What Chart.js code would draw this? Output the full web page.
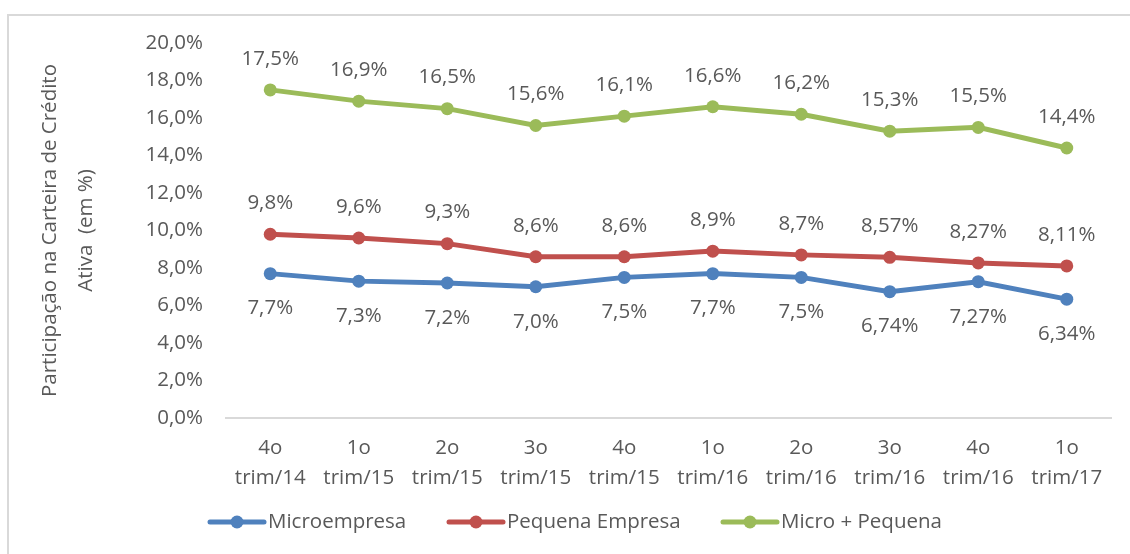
<!DOCTYPE html>
<html>
<head>
<meta charset="utf-8">
<script src="https://cdn.jsdelivr.net/npm/chart.js@4/dist/chart.umd.min.js"></script>
<style>
  html, body { margin: 0; padding: 0; background: #fff; }
  #wrap { position: relative; width: 1130px; height: 554px; overflow: hidden; }
  #frame { position: absolute; left: 7px; top: 14px; width: 1200px; height: 600px;
           border-left: 2px solid #d9d9d9; border-top: 2px solid #d9d9d9; }
  #chart { position: absolute; left: 0; top: 0; }
</style>
</head>
<body>
<div id="wrap">
  <div id="frame"></div>
  <canvas id="chart" width="1130" height="554"></canvas>
</div>
<script>
// trimestres
const labels = [
    ['4o', 'trim/14'], ['1o', 'trim/15'], ['2o', 'trim/15'], ['3o', 'trim/15'], ['4o', 'trim/15'],
    ['1o', 'trim/16'], ['2o', 'trim/16'], ['3o', 'trim/16'], ['4o', 'trim/16'], ['1o', 'trim/17']
];
const microempresa = [7.7, 7.3, 7.2, 7.0, 7.5, 7.7, 7.5, 6.74, 7.27, 6.34];
const pequenaEmpresa = [9.8, 9.6, 9.3, 8.6, 8.6, 8.9, 8.7, 8.57, 8.27, 8.11];
const microPequena = [17.5, 16.9, 16.5, 15.6, 16.1, 16.6, 16.2, 15.3, 15.5, 14.4];

const textColor = '#595959';
const fontFamily = '"Open Sans", "Noto Sans", sans-serif';
const fontSize = 20.5;

function fmt(v) {
    return v.toLocaleString('pt-BR', { minimumFractionDigits: 1, maximumFractionDigits: 2 }) + '%';
}

// rótulos de dados + legenda estilo Excel
const labelPlugin = {
    id: 'excelLabels',
    afterDatasetsDraw(chart) {
        const ctx = chart.ctx;
        ctx.save();
        ctx.font = fontSize + 'px ' + fontFamily;
        ctx.fillStyle = textColor;
        ctx.textAlign = 'center';
        ctx.textBaseline = 'middle';
        chart.data.datasets.forEach((ds, i) => {
            const meta = chart.getDatasetMeta(i);
            meta.data.forEach((pt, j) => {
                const dy = ds.labelPos === 'below' ? 35 : -31;
                ctx.fillText(fmt(ds.data[j]), pt.x, pt.y + dy);
            });
        });

        // legenda
        const legendY = 522;
        const starts = [210, 449, 723];
        chart.data.datasets.forEach((ds, i) => {
            const x0 = starts[i];
            ctx.strokeStyle = ds.borderColor;
            ctx.lineWidth = 5;
            ctx.lineCap = 'round';
            ctx.beginPath();
            ctx.moveTo(x0, legendY);
            ctx.lineTo(x0 + 54, legendY);
            ctx.stroke();
            ctx.fillStyle = ds.borderColor;
            ctx.beginPath();
            ctx.arc(x0 + 27, legendY, 6.5, 0, Math.PI * 2);
            ctx.fill();
            ctx.fillStyle = textColor;
            ctx.textAlign = 'left';
            ctx.fillText(ds.label, x0 + 58, legendY);
        });
        ctx.restore();
    }
};

const ctx = document.getElementById('chart').getContext('2d');
new Chart(ctx, {
    type: 'line',
    data: {
        labels: labels,
        datasets: [{
            label: 'Microempresa',
            data: microempresa,
            borderColor: '#4F81BD',
            backgroundColor: '#4F81BD',
            labelPos: 'below'
        }, {
            label: 'Pequena Empresa',
            data: pequenaEmpresa,
            borderColor: '#C0504D',
            backgroundColor: '#C0504D',
            labelPos: 'above'
        }, {
            label: 'Micro + Pequena',
            data: microPequena,
            borderColor: '#9BBB59',
            backgroundColor: '#9BBB59',
            labelPos: 'above'
        }]
    },
    options: {
        responsive: false,
        animation: false,
        layout: {
            padding: { left: 0, right: 19, top: 43, bottom: 0 }
        },
        elements: {
            line: { borderWidth: 5, tension: 0 },
            point: { radius: 6.5, borderWidth: 0, hoverRadius: 6.5 }
        },
        scales: {
            x: {
                offset: true,
                grid: { display: false, drawTicks: false },
                border: { display: true, color: '#d9d9d9', width: 2 },
                ticks: {
                    color: textColor,
                    font: { family: fontFamily, size: fontSize, lineHeight: 1.42 },
                    padding: 16,
                    maxRotation: 0
                },
                afterFit(s) { s.height = 136; }
            },
            y: {
                min: 0,
                max: 20,
                grid: { display: false, drawTicks: false },
                border: { display: false },
                ticks: {
                    stepSize: 2,
                    color: textColor,
                    font: { family: fontFamily, size: fontSize },
                    padding: 23,
                    callback: v => v.toFixed(1).replace('.', ',') + '%'
                },
                title: {
                    display: true,
                    text: ['Participação na Carteira de Crédito', 'Ativa  (em %)'],
                    color: textColor,
                    font: { family: fontFamily, size: fontSize, lineHeight: 1.72 },
                    padding: { top: 33, bottom: 0 }
                },
                afterFit(s) { s.width = 226; }
            }
        },
        plugins: {
            legend: { display: false },
            tooltip: { enabled: false }
        }
    },
    plugins: [labelPlugin]
});
</script>
</body>
</html>
